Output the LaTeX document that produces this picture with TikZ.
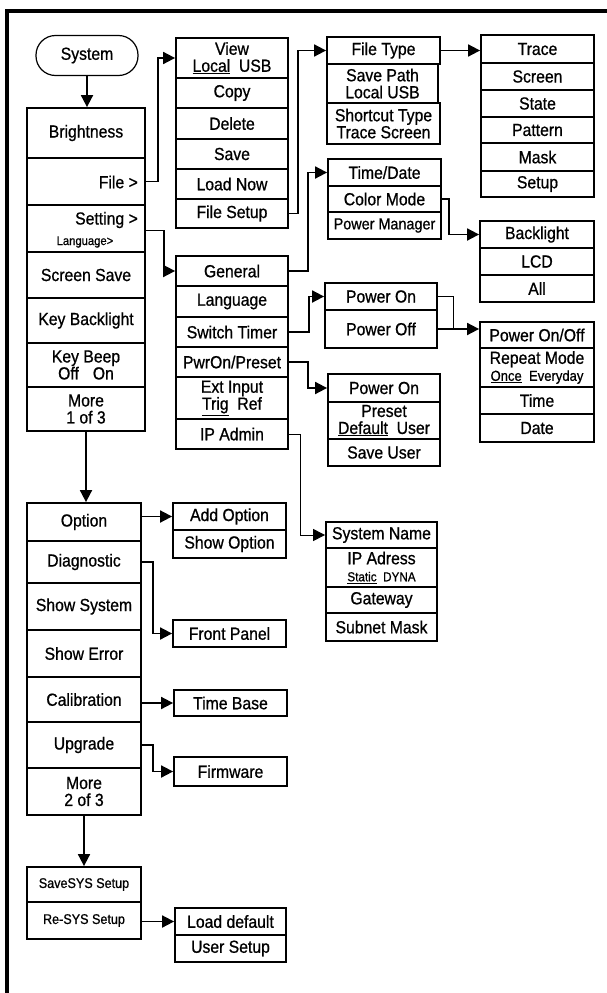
\documentclass[tikz,border=0pt]{standalone}
\usepackage{fontspec}
\setmainfont{Liberation Sans}[FakeStretch=0.9,FakeBold=0.8]
\usetikzlibrary{arrows.meta,calc}
\tikzset{
 cell/.style={draw, line width=1.8pt, inner sep=0pt, align=center, font=\fontsize{17.5}{17}\selectfont},
 conn/.style={line width=1.8pt, -{Triangle[length=12pt,width=12pt]}},
 thinconn/.style={line width=1pt, -{Triangle[length=12pt,width=12pt]}},
 smalltxt/.style={font=\fontsize{14}{14}\selectfont},
}
\newcommand\cellbox[7][]{\node[cell, minimum width={(#5-#3)*1pt}, minimum height={(#6-#4)*1pt}, #1] (#2) at ({(#3+#5)/2},{(#4+#6)/2}) {#7};}
\begin{document}
\begin{tikzpicture}[x=1pt,y=-1pt]
\useasboundingbox (0,0) rectangle (607,993);
% frame
\draw[line width=3.5pt] (7,993) -- (7,11) -- (607,11);
% System
\node[draw, line width=1.2pt, rounded corners=19.5pt, minimum width=102pt, minimum height=40pt, inner sep=0pt, font=\fontsize{17.5}{17}\selectfont] (system) at (87,55.5) {System};
% column 1
\cellbox{bright}{27}{108}{145}{158}{Brightness}
\cellbox{file}{27}{158}{145}{205}{}
\cellbox{setting}{27}{205}{145}{252}{}
\cellbox{ssave}{27}{252}{145}{298}{Screen Save}
\cellbox{kback}{27}{298}{145}{343}{Key Backlight}
\cellbox{kbeep}{27}{343}{145}{387}{Key Beep\\Off\hspace{14pt}On}
\cellbox{more1}{27}{387}{145}{431}{More\\1 of 3}
\node[anchor=east, inner sep=0pt, font=\fontsize{17.5}{17}\selectfont] (filetxt) at (138,182) {File >};
\node[anchor=east, inner sep=0pt, font=\fontsize{17.5}{17}\selectfont] (settxt) at (138,220) {Setting >};
\node[inner sep=0pt, font=\fontsize{12.5}{12.5}\selectfont] (langtxt) at (85,242) {Language>};
% column 1b
\cellbox{option}{27}{503}{141}{541}{Option}
\cellbox{diag}{27}{541}{141}{583}{Diagnostic}
\cellbox{showsys}{27}{583}{141}{630}{Show System}
\cellbox{showerr}{27}{630}{141}{677}{Show Error}
\cellbox{calib}{27}{677}{141}{722}{Calibration}
\cellbox{upgrade}{27}{722}{141}{768}{Upgrade}
\cellbox{more2}{27}{768}{141}{815}{More\\2 of 3}
\cellbox[smalltxt]{savesys}{27}{867}{141}{902}{SaveSYS Setup}
\cellbox[smalltxt]{resys}{27}{902}{141}{939}{Re-SYS Setup}
% column 2 top
\cellbox{view}{176}{38}{288}{78}{View\\\underline{Local}\ \ USB}
\cellbox{copy}{176}{78}{288}{108}{Copy}
\cellbox{delete}{176}{108}{288}{139}{Delete}
\cellbox{save}{176}{139}{288}{169}{Save}
\cellbox{loadnow}{176}{169}{288}{199}{Load Now}
\cellbox{fsetup}{176}{199}{288}{228}{File Setup}
% column 2 middle
\cellbox{general}{176}{256}{288}{286}{General}
\cellbox{lang}{176}{286}{288}{317}{Language}
\cellbox{switch}{176}{317}{288}{347}{Switch Timer}
\cellbox{pwron}{176}{347}{288}{377}{PwrOn/Preset}
\cellbox{ext}{176}{377}{288}{419}{Ext Input\\\underline{Trig}\ \ Ref}
\cellbox{ipadmin}{176}{419}{288}{449}{IP Admin}
% file type
\cellbox{ftype}{327}{37}{440}{64}{File Type}
\cellbox{spath}{327}{64}{438}{103}{Save Path\\Local USB}
\cellbox{stype}{327}{103}{440}{144}{Shortcut Type\\Trace Screen}
% trace column
\cellbox{trace}{481}{35}{594}{63}{Trace}
\cellbox{screen}{481}{63}{594}{90}{Screen}
\cellbox{state}{481}{90}{594}{117}{State}
\cellbox{pattern}{481}{117}{594}{143}{Pattern}
\cellbox{mask}{481}{143}{594}{171}{Mask}
\cellbox{setup}{481}{171}{594}{197}{Setup}
% time/date
\cellbox{timedate}{328}{159}{441}{186}{Time/Date}
\cellbox{colormode}{328}{186}{441}{212}{Color Mode}
\cellbox[font=\fontsize{16}{16}\selectfont]{pmanager}{328}{212}{441}{239}{Power Manager}
% backlight
\cellbox{backlight}{480}{221}{594}{248}{Backlight}
\cellbox{lcd}{480}{248}{594}{275}{LCD}
\cellbox{all}{480}{275}{594}{302}{All}
% power on/off
\cellbox{pon1}{325}{283}{437}{310}{Power On}
\cellbox{poff}{325}{310}{437}{348}{Power Off}
\cellbox{ponoff}{480}{322}{594}{348}{Power On/Off}
\cellbox{repeat}{480}{348}{594}{387}{Repeat Mode\\{\fontsize{14.5}{14}\selectfont\underline{Once}\ \ Everyday}}
\cellbox{time}{480}{387}{594}{414}{Time}
\cellbox{date}{480}{414}{594}{442}{Date}
% power on 2
\cellbox{pon2}{328}{374}{440}{402}{Power On}
\cellbox{preset}{328}{402}{440}{439}{Preset\\\underline{Default}\ \ User}
\cellbox{saveuser}{328}{439}{440}{466}{Save User}
% system name
\cellbox{sysname}{326}{522}{437}{548}{System Name}
\cellbox{ipadr}{326}{548}{437}{587}{IP Adress\\{\fontsize{13}{13}\selectfont\underline{Static}\ \ DYNA}}
\cellbox{gateway}{326}{587}{437}{613}{Gateway}
\cellbox{subnet}{326}{613}{437}{641}{Subnet Mask}
% option side
\cellbox{addopt}{173}{503}{286}{530}{Add Option}
\cellbox{showopt}{173}{530}{286}{558}{Show Option}
\cellbox{fpanel}{173}{620}{286}{647}{Front Panel}
\cellbox{timebase}{174}{690}{287}{716}{Time Base}
\cellbox{firmware}{174}{757}{287}{786}{Firmware}
\cellbox{loaddef}{175}{908}{286}{935}{Load default}
\cellbox{usersetup}{175}{935}{286}{962}{User Setup}
% connectors
\draw[conn] (system.south) -- (system.south |- bright.north);
\draw[conn] (file.east) -- ++(12,0) |- (view.west);
\draw[conn] ($(setting.east)+(0,2)$) -- ++(18,0) |- (general.west);
\draw[conn] (fsetup.east) -- ++(9,0) |- (ftype.west);
\draw[conn] (ftype.east) -- (ftype.east -| trace.west);
\draw[conn] (general.east) -- ++(19,0) |- (timedate.west);
\draw[conn] (colormode.east) -- ++(7,0) |- (backlight.west);
\draw[conn] (switch.east) -- ++(20,0) |- (pon1.west);
\draw[conn] (poff.east) -- (poff.east -| ponoff.west);
\coordinate (j1) at ($(poff.east)+(16,0)$);
\draw[line width=1pt] (pon1.east) -| (j1);
\draw[conn] (pwron.east) -- ++(19,0) |- (pon2.west);
\draw[thinconn] (ipadmin.east) -- ++(12,0) |- (sysname.west);
\draw[conn] (addopt.west -| option.east) -- (addopt.west);
\draw[conn] (diag.east) -- ++(11,0) |- (fpanel.west);
\draw[conn] (timebase.west -| calib.east) -- (timebase.west);
\draw[conn] (upgrade.east) -- ++(11,0) |- (firmware.west);
\draw[conn] (more1.south) -- (more1.south |- option.north);
\draw[conn] (more2.south) -- (more2.south |- savesys.north);
\draw[conn] (loaddef.west -| resys.east) -- (loaddef.west);
\end{tikzpicture}
\end{document}
